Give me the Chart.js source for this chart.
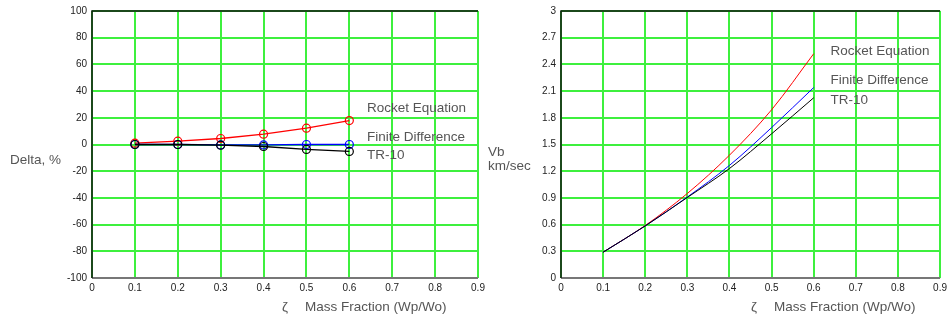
<!DOCTYPE html>
<html lang="en">
<head>
    <meta charset="UTF-8">
    <title>Mass Fraction</title>
    <script src="https://cdn.jsdelivr.net/npm/chart.js"></script>
    <style>
        body { margin: 0; background: #fff; }
        #wrap { position: relative; width: 951px; height: 322px; }
        canvas { position: absolute; top: 0; }
    </style>
</head>
<body>
    <div id="wrap">
        <canvas id="canvas1" width="495" height="322" style="left:0"></canvas>
        <canvas id="canvas2" width="471" height="322" style="left:480px"></canvas>
    </div>

    <script>
        // Data
        const massFraction = [0.1, 0.2, 0.3, 0.4, 0.5, 0.6];

        // Left panel: Delta, %
        const deltaRocket = [1, 2.5, 4.5, 7.7, 12.2, 17.9];
        const deltaFinite = [0, 0, -0.3, -0.3, 0, 0];
        const deltaTR10 = [0, 0, -0.5, -1.5, -3.7, -5.2];

        // Right panel: Vb, km/sec
        const vbRocket = [0.29, 0.59, 0.95, 1.38, 1.89, 2.52];
        const vbFinite = [0.29, 0.585, 0.91, 1.265, 1.69, 2.14];
        const vbTR10 = [0.29, 0.585, 0.905, 1.23, 1.62, 2.025];

        // Tick labels
        const xTicks = [0, 0.1, 0.2, 0.3, 0.4, 0.5, 0.6, 0.7, 0.8, 0.9];
        const xTickLabels = ['0', '0.1', '0.2', '0.3', '0.4', '0.5', '0.6', '0.7', '0.8', '0.9'];
        const deltaTicks = [-100, -80, -60, -40, -20, 0, 20, 40, 60, 80, 100];
        const deltaTickLabels = ['-100', '-80', '-60', '-40', '-20', '0', '20', '40', '60', '80', '100'];
        const vbTicks = [0, 0.3, 0.6, 0.9, 1.2, 1.5, 1.8, 2.1, 2.4, 2.7, 3];
        const vbTickLabels = ['0', '0.3', '0.6', '0.9', '1.2', '1.5', '1.8', '2.1', '2.4', '2.7', '3'];

        const seriesNames = ['Rocket Equation', 'Finite Difference', 'TR-10'];

        const gridGreen = '#3ef03e';
        const tickFont = { family: 'Liberation Sans', size: 10 };
        const textColor = '#555';

        function points(ys) {
            return massFraction.map((x, i) => ({ x: x, y: ys[i] }));
        }

        // frame + side texts drawn after datasets
        function framePlugin(opts) {
            return {
                id: 'frame',
                afterDraw(chart) {
                    const ctx = chart.ctx;
                    const a = chart.chartArea;
                    ctx.save();
                    // bottom border gray
                    ctx.strokeStyle = '#777';
                    ctx.lineWidth = 2;
                    ctx.beginPath();
                    ctx.moveTo(a.left, a.bottom);
                    ctx.lineTo(a.right, a.bottom);
                    ctx.stroke();
                    // left + top black
                    ctx.strokeStyle = '#111';
                    ctx.lineWidth = 1.5;
                    ctx.beginPath();
                    ctx.moveTo(a.left, a.bottom);
                    ctx.lineTo(a.left, a.top);
                    ctx.lineTo(a.right, a.top);
                    ctx.stroke();

                    ctx.fillStyle = textColor;
                    ctx.font = '13.5px "Liberation Sans"';
                    ctx.textBaseline = 'middle';
                    ctx.textAlign = 'left';
                    const xs = chart.scales.x, ys = chart.scales.y;
                    // series labels
                    opts.labels.forEach((lab, i) => {
                        ctx.fillText(lab, xs.getPixelForValue(opts.labelX), ys.getPixelForValue(opts.labelY[i]));
                    });
                    // y title
                    opts.yTitle.forEach((t, i) => {
                        ctx.fillText(t, opts.yTitleX, opts.yTitleY[i]);
                    });
                    // x title
                    ctx.fillText('\u03B6', a.left + 190, 307);
                    ctx.fillText('Mass Fraction (Wp/Wo)', a.left + 213, 307);
                    ctx.restore();
                }
            };
        }

        function makeChart(canvas, datasets, yMin, yMax, yTicks, yLabels, yWidth, padRight, plugin) {
            return new Chart(canvas.getContext('2d'), {
                type: 'line',
                data: { datasets: datasets },
                options: {
                    responsive: false,
                    animation: false,
                    layout: { padding: { top: 10, right: padRight, left: 0, bottom: 0 } },
                    plugins: { legend: { display: false }, tooltip: { enabled: false } },
                    scales: {
                        x: {
                            type: 'linear',
                            min: 0,
                            max: 0.9,
                            afterBuildTicks: axis => { axis.ticks = xTicks.map(v => ({ value: v })); },
                            afterFit: axis => { axis.height = 44; },
                            ticks: {
                                callback: (v, i) => xTickLabels[i],
                                font: tickFont,
                                color: '#222',
                                padding: 4,
                                maxRotation: 0,
                                autoSkip: false
                            },
                            grid: { color: gridGreen, lineWidth: 2, drawTicks: false },
                            border: { display: false }
                        },
                        y: {
                            min: yMin,
                            max: yMax,
                            afterBuildTicks: axis => { axis.ticks = yTicks.map(v => ({ value: v })); },
                            afterFit: axis => { axis.width = yWidth; },
                            ticks: {
                                callback: (v, i) => yLabels[i],
                                font: tickFont,
                                color: '#222',
                                padding: 5,
                                autoSkip: false
                            },
                            grid: { color: gridGreen, lineWidth: 2, drawTicks: false },
                            border: { display: false }
                        }
                    }
                },
                plugins: [plugin]
            });
        }

        function lineSet(name, ys, color, order, withPoints) {
            return {
                label: name,
                data: points(ys),
                borderColor: color,
                borderWidth: withPoints ? 1.3 : 1,
                pointStyle: 'circle',
                pointRadius: withPoints ? 4 : 0,
                pointBorderColor: color,
                pointBackgroundColor: 'rgba(0,0,0,0)',
                pointBorderWidth: 1.2,
                cubicInterpolationMode: withPoints ? 'default' : 'monotone',
                tension: withPoints ? 0 : 0.4,
                order: order
            };
        }

        makeChart(
            document.getElementById('canvas1'),
            [
                lineSet(seriesNames[0], deltaRocket, '#ff0000', 2, true),
                lineSet(seriesNames[1], deltaFinite, '#0000ff', 1, true),
                lineSet(seriesNames[2], deltaTR10, '#000000', 0, true)
            ],
            -100, 100, deltaTicks, deltaTickLabels, 92, 17,
            framePlugin({
                labels: seriesNames,
                labelX: 0.641,
                labelY: [27, 5.5, -8],
                yTitle: ['Delta, %'],
                yTitleX: 10,
                yTitleY: [160]
            })
        );

        makeChart(
            document.getElementById('canvas2'),
            [
                lineSet(seriesNames[0], vbRocket, '#ff0000', 2, false),
                lineSet(seriesNames[1], vbFinite, '#0000ff', 1, false),
                lineSet(seriesNames[2], vbTR10, '#000000', 0, false)
            ],
            0, 3, vbTicks, vbTickLabels, 81, 6,
            framePlugin({
                labels: seriesNames,
                labelX: 0.64,
                labelY: [2.55, 2.22, 2.0],
                yTitle: ['Vb', 'km/sec'],
                yTitleX: 8,
                yTitleY: [152, 166]
            })
        );
    </script>
</body>
</html>
